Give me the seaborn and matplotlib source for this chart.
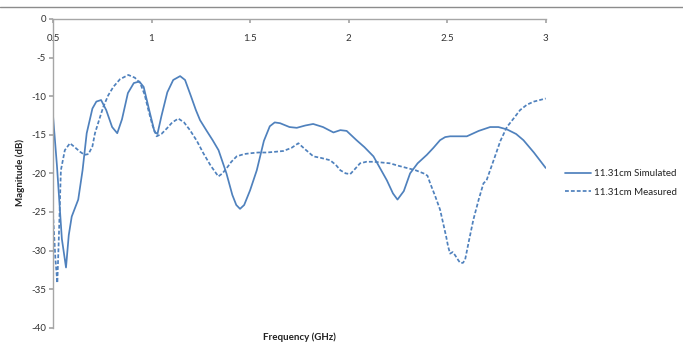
import numpy as np
import pandas as pd
import seaborn as sns
import matplotlib.pyplot as plt
from matplotlib.lines import Line2D

sim_freq = [0.5, 0.52, 0.545, 0.566, 0.58, 0.595, 0.628, 0.65, 0.671, 0.7, 0.72, 0.744, 0.77, 0.8,
            0.826, 0.85, 0.88, 0.91, 0.938, 0.96, 0.99, 1.015, 1.03, 1.05, 1.08, 1.11, 1.145, 1.17,
            1.2, 1.225, 1.246, 1.28, 1.31, 1.34, 1.38, 1.41, 1.43, 1.449, 1.47, 1.50, 1.534, 1.57,
            1.60, 1.625, 1.652, 1.70, 1.737, 1.78, 1.82, 1.87, 1.923, 1.958, 1.99, 2.04, 2.08, 2.126,
            2.194, 2.225, 2.248, 2.28, 2.312, 2.35, 2.397, 2.43, 2.464, 2.49, 2.515, 2.56, 2.6,
            2.66, 2.718, 2.76, 2.803, 2.85, 2.887, 2.94, 3.0]
sim_db = [-12.5, -19.0, -28.5, -32.2, -28.0, -25.6, -23.4, -19.6, -14.8, -11.6, -10.7, -10.5, -11.8,
          -14.0, -14.8, -13.0, -9.6, -8.3, -8.1, -8.8, -12.0, -14.6, -14.9, -12.6, -9.5, -7.9, -7.4,
          -7.9, -10.0, -11.8, -13.1, -14.5, -15.7, -17.0, -20.0, -22.8, -24.1, -24.6, -24.1, -22.2,
          -19.6, -15.8, -13.9, -13.4, -13.5, -14.0, -14.1, -13.8, -13.6, -14.0, -14.7, -14.4, -14.5,
          -15.7, -16.6, -17.8, -20.9, -22.6, -23.4, -22.3, -20.0, -18.7, -17.6, -16.7, -15.7, -15.3,
          -15.2, -15.2, -15.2, -14.5, -14.0, -14.0, -14.3, -14.9, -15.7, -17.3, -19.3]

meas_freq = [0.5, 0.512, 0.522, 0.53, 0.54, 0.56, 0.586, 0.61, 0.637, 0.66, 0.68, 0.70, 0.713,
             0.735, 0.755, 0.78, 0.806, 0.84, 0.882, 0.915, 0.942, 0.965, 0.984, 1.005, 1.026,
             1.05, 1.077, 1.105, 1.136, 1.165, 1.195, 1.23, 1.263, 1.30, 1.339, 1.36, 1.382,
             1.405, 1.432, 1.47, 1.5, 1.54, 1.585, 1.63, 1.669, 1.71, 1.745, 1.78, 1.821, 1.86,
             1.906, 1.935, 1.958, 1.985, 2.008, 2.03, 2.058, 2.09, 2.126, 2.17, 2.21, 2.25, 2.295,
             2.34, 2.38, 2.40, 2.414, 2.44, 2.464, 2.48, 2.495, 2.505, 2.515, 2.528, 2.54, 2.555,
             2.566, 2.58, 2.591, 2.61, 2.633, 2.66, 2.684, 2.7, 2.74, 2.77, 2.803, 2.84, 2.87,
             2.905, 2.94, 2.97, 3.0]
meas_db = [-25.2, -31.0, -34.2, -28.0, -19.6, -17.0, -16.1, -16.6, -17.2, -17.6, -17.5, -16.5,
           -14.8, -13.0, -11.4, -9.9, -8.8, -7.8, -7.25, -7.6, -8.3, -9.8, -11.8, -13.8, -15.2,
           -14.9, -14.2, -13.4, -12.9, -13.4, -14.4, -15.8, -17.4, -19.0, -20.4, -20.0, -19.3,
           -18.5, -17.8, -17.5, -17.4, -17.3, -17.3, -17.2, -17.1, -16.7, -16.1, -16.9, -17.8,
           -18.0, -18.3, -18.9, -19.6, -20.0, -20.1, -19.5, -18.7, -18.5, -18.5, -18.6, -18.7,
           -19.0, -19.3, -19.6, -20.0, -20.3, -21.3, -23.0, -24.7, -26.5, -28.2, -29.5, -30.4,
           -30.2, -30.6, -31.2, -31.6, -31.6, -31.2, -28.8, -26.0, -23.4, -21.3, -20.9, -18.0,
           -15.8, -14.0, -12.8, -11.8, -11.1, -10.7, -10.5, -10.3]

sim_label = "11.31cm Simulated"
meas_label = "11.31cm Measured"
x_ticks = [0.5, 1, 1.5, 2, 2.5, 3]
x_tick_labels = ["0.5", "1", "1.5", "2", "2.5", "3"]
y_ticks = [0, -5, -10, -15, -20, -25, -30, -35, -40]

df = pd.concat([
    pd.DataFrame({"Frequency": sim_freq, "Magnitude": sim_db, "Series": sim_label}),
    pd.DataFrame({"Frequency": meas_freq, "Magnitude": meas_db, "Series": meas_label}),
], ignore_index=True)

sns.set_theme(style="white")
plt.rcParams['font.family'] = ['Lato', 'DejaVu Sans']

W, H = 683, 344
fig = plt.figure(figsize=(W / 100, H / 100), dpi=100)
left, right, top, bottom = 53, 545.7, 19, 327.7
ax = fig.add_axes([left / W, 1 - bottom / H, (right - left) / W, (bottom - top) / H])

blue = "#4F81BD"
sns.lineplot(data=df, x="Frequency", y="Magnitude", hue="Series", style="Series",
             palette={sim_label: blue, meas_label: blue},
             dashes={sim_label: "", meas_label: (2.2, 1.2)},
             sort=False, linewidth=1.25, ax=ax, legend=False)
for ln in ax.get_lines():
    ln.set_solid_joinstyle("round")
    ln.set_dash_joinstyle("round")

ax.set_xlim(0.5, 3)
ax.set_ylim(-40, 0)
ax.set_xticks(x_ticks)
ax.set_xticklabels(x_tick_labels)
ax.set_yticks(y_ticks)
ax.set_yticklabels([str(v) for v in y_ticks])

for s in ["right", "bottom"]:
    ax.spines[s].set_visible(False)
for s in ["top", "left"]:
    ax.spines[s].set_visible(True)
    ax.spines[s].set_color("#a6a6a6")
    ax.spines[s].set_linewidth(1.0)

ax.xaxis.tick_top()
ax.tick_params(axis="x", which="major", top=True, bottom=False, labeltop=True, labelbottom=False,
               direction="in", length=3, color="#a6a6a6", pad=-11, labelsize=7, labelcolor="#333333")
ax.tick_params(axis="y", which="major", left=True, direction="out", length=3, color="#a6a6a6",
               pad=2, labelsize=7, labelcolor="#333333")
for lbl in ax.get_xticklabels():
    lbl.set_verticalalignment("top")

ax.set_xlabel("")
ax.set_ylabel("")
fig.text((left + right) / 2 / W, 1 - 337 / H, "Frequency (GHz)", ha="center", va="center",
         fontsize=7, fontweight="bold", color="#222222")
fig.text(20 / W, 1 - 172 / H, "Magnitude (dB)", ha="center", va="center", rotation=90,
         fontsize=7, fontweight="bold", color="#222222")

handles = [Line2D([0], [0], color=blue, lw=1.25, label=sim_label),
           Line2D([0], [0], color=blue, lw=1.25, dashes=(2.2, 1.2), label=meas_label)]
fig.legend(handles=handles, loc="center left", bbox_to_anchor=(565 / W, 1 - 183 / H),
           frameon=False, fontsize=7, handlelength=2.7, handletextpad=0.3, labelspacing=0.95,
           borderpad=0, borderaxespad=0, labelcolor="#222222")

fig.add_artist(Line2D([0, 1], [1 - 7 / H, 1 - 7 / H], transform=fig.transFigure,
                      color="#8c8c8c", lw=1.0))

fig.savefig("out.png", dpi=100)
